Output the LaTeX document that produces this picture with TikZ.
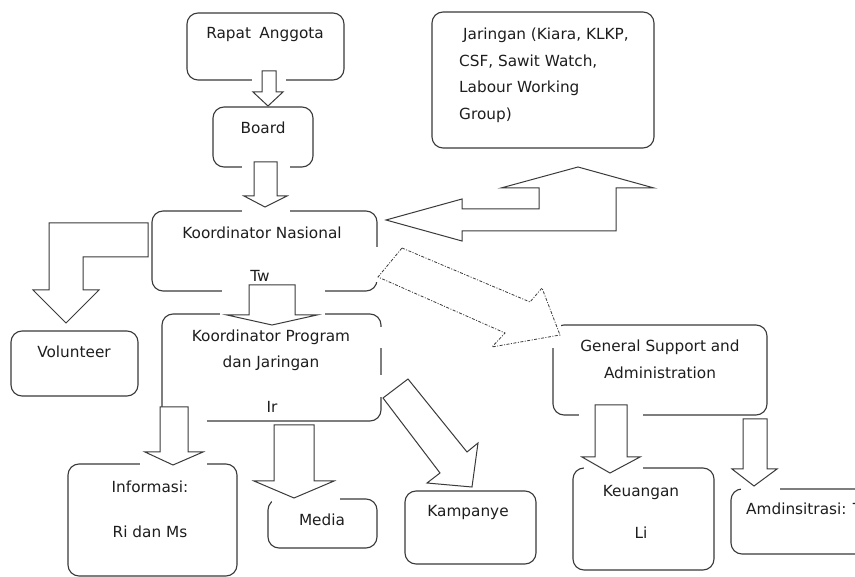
\documentclass[tikz,border=0pt]{standalone}
\usepackage{fontspec}
\setmainfont{DejaVu Sans}
\definecolor{lc}{HTML}{3A3A3A}
\definecolor{tc}{HTML}{1E1E1E}
\newcommand\vblockarrow[8]{\draw[barrow] (#1,#3) -- (#2,#3) -- (#2,#4) -- (#6,#4) -- (#7,#8) -- (#5,#4) -- (#1,#4) -- cycle;}
\begin{document}
\begin{tikzpicture}[x=1pt,y=-1pt,
  box/.style={draw=lc, line width=1.1pt, rounded corners=11pt, inner sep=0pt},
  txt/.style={inner sep=0pt, font=\fontsize{15.3}{18}\selectfont, text=tc},
  barrow/.style={draw=lc, line width=1pt, fill=white, line join=miter},
  dasharrow/.style={draw=lc, line width=0.8pt, fill=white, dash pattern=on 3pt off 1.5pt on 1pt off 1.5pt},
  gap/.style={fill=white, draw=none}]
\useasboundingbox (0,0) rectangle (855,577);
\fill[white] (0,0) rectangle (855,577);
\clip (0,0) rectangle (855,577);

% boxes
\node[box, minimum width=157pt, minimum height=67pt] (rapat) at (265.5,46.5) {};
\node[box, minimum width=100pt, minimum height=60pt] (board) at (263,137) {};
\node[box, minimum width=225pt, minimum height=80pt] (kn) at (264.5,251) {};
\node[box, minimum width=222pt, minimum height=136pt] (jar) at (543,80) {};
\node[box, minimum width=127pt, minimum height=65pt] (vol) at (74.5,363.5) {};
\node[box, minimum width=219pt, minimum height=107pt] (kpj) at (271.5,367.5) {};
\node[box, minimum width=214pt, minimum height=90pt] (gs) at (660,370) {};
\node[box, minimum width=169pt, minimum height=112pt] (info) at (152.5,520) {};
\node[box, minimum width=109pt, minimum height=49pt] (media) at (322.5,523.5) {};
\node[box, minimum width=131pt, minimum height=73pt] (kamp) at (470.5,527.5) {};
\node[box, minimum width=141pt, minimum height=102pt] (keu) at (643.5,519) {};
\node[box, minimum width=169pt, minimum height=65pt] (amd) at (815.5,521.5) {};

% gaps in borders
\fill[gap] (252,75) rectangle (286,84);
\fill[gap] (242,163) rectangle (290,171);
\fill[gap] (242,207) rectangle (290,215);
\fill[gap] (373,247) rectangle (381,282);
\fill[gap] (222,287) rectangle (325,295);
\fill[gap] (220,310) rectangle (325,318);
\fill[gap] (377,327) rectangle (385,348);
\fill[gap] (377,375) rectangle (385,397);
\fill[gap] (156,408) rectangle (207,425);
\fill[gap] (140,460) rectangle (207,468);
\fill[gap] (272,495) rectangle (340,503);
\fill[gap] (549,321) rectangle (561,348);
\fill[gap] (579,411) rectangle (643,419);
\fill[gap] (584,464) rectangle (643,472);
\fill[gap] (741,485) rectangle (780,493);

% texts
\node[txt] (rapat-t) at (265,35) {Rapat\hspace{0.55em}Anggota};
\node[txt] (board-t) at (263,128) {Board};
\node[txt] (kn-t) at (262,233) {Koordinator Nasional};
\node[txt] (kn-tw) at (260,276) {Tw};
\node[txt, anchor=west] (jar-t1) at (463,35) {Jaringan (Kiara, KLKP,};
\node[txt, anchor=west] (jar-t2) at (459,62) {CSF, Sawit Watch,};
\node[txt, anchor=west] (jar-t3) at (459,88) {Labour Working};
\node[txt, anchor=west] (jar-t4) at (459,115) {Group)};
\node[txt] (vol-t) at (74,352) {Volunteer};
\node[txt] (kpj-t1) at (271,337) {Koordinator Program};
\node[txt] (kpj-t2) at (271,363) {dan Jaringan};
\node[txt] (kpj-t3) at (272,407) {Ir};
\node[txt] (gs-t1) at (660,347) {General Support and};
\node[txt] (gs-t2) at (660,373) {Administration};
\node[txt] (info-t1) at (150,487) {Informasi:};
\node[txt] (info-t2) at (150,532) {Ri dan Ms};
\node[txt] (media-t) at (322,520) {Media};
\node[txt] (kamp-t) at (468,513) {Kampanye};
\node[txt] (keu-t1) at (641,493) {Keuangan};
\node[txt] (keu-t2) at (641,533) {Li};
\node[txt, anchor=west] (amd-t) at (746,509) {Amdinsitrasi: T};

% block arrows
\vblockarrow{262}{276}{71}{92}{253}{283}{268}{106}
\vblockarrow{254}{277}{162}{196}{244}{287}{265}{207}
\vblockarrow{249}{295}{285}{315}{227}{317}{272}{325}
\vblockarrow{160}{188}{407}{452}{145}{203}{173}{465}
\vblockarrow{274}{314}{425}{481}{254}{334}{294}{498}
\vblockarrow{595}{627}{405}{457}{582}{640}{610}{473}
\vblockarrow{743}{767}{419}{469}{732}{777}{754}{486}
% bent arrow to Volunteer
\draw[barrow] (148,223) -- (49,223) -- (49,290) -- (33,290) -- (66,323) -- (99,290) -- (83,290) -- (83,257) -- (148,257) -- cycle;
% diagonal arrow to Kampanye
\draw[barrow] (383,398) -- (408,379) -- (467,452) -- (478,443) -- (472,487) -- (427,483) -- (440,473) -- cycle;
% double arrow Jaringan <-> Koordinator Nasional
\draw[barrow] (386,220) -- (462,199) -- (462,209) -- (539,209) -- (539,188) -- (501,188) -- (578,167) -- (654,188) -- (616,188) -- (616,231) -- (462,231) -- (462,241) -- cycle;
% dashed arrow to General Support
\draw[dasharrow] (402,248) -- (530,302) -- (542,288) -- (560,335) -- (492,347) -- (505,333) -- (378,277) -- cycle;
\end{tikzpicture}
\end{document}
